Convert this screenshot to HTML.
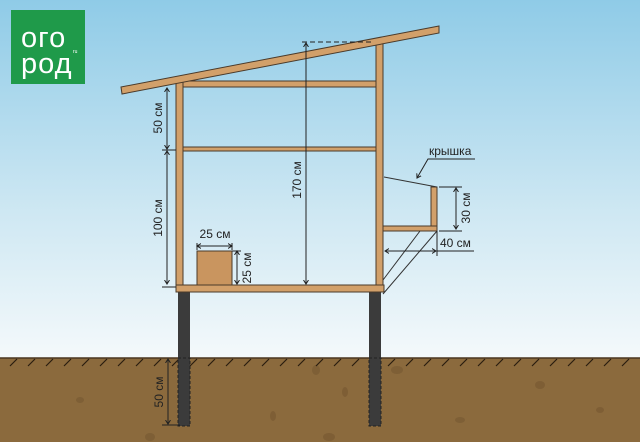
<!DOCTYPE html>
<html><head><meta charset="utf-8"><style>html,body{margin:0;padding:0;width:640px;height:442px;overflow:hidden}svg{display:block}text{font-family:"Liberation Sans",sans-serif;fill:#222}</style></head><body>
<svg width="640" height="442" viewBox="0 0 640 442" xmlns="http://www.w3.org/2000/svg">
<defs>
<linearGradient id="sky" x1="0" y1="0" x2="0" y2="1"><stop offset="0" stop-color="#8fcbe7"/><stop offset="0.6" stop-color="#cfe8f3"/><stop offset="1" stop-color="#f4f9fb"/></linearGradient>
<marker id="a" markerWidth="8" markerHeight="8" refX="4" refY="4" orient="auto-start-reverse"><path d="M0,1.5 L4,4 L0,6.5" fill="none" stroke="#222" stroke-width="1"/></marker>
</defs>
<rect width="640" height="358" fill="url(#sky)"/>
<rect y="358" width="640" height="84" fill="#8b6a3d"/>
<g fill="#7b5c34" opacity="0.8">
<ellipse cx="316" cy="370" rx="4" ry="5"/><ellipse cx="397" cy="370" rx="6" ry="4"/><ellipse cx="345" cy="392" rx="3" ry="5"/><ellipse cx="273" cy="416" rx="3" ry="5"/><ellipse cx="329" cy="437" rx="6" ry="4"/><ellipse cx="150" cy="437" rx="5" ry="4"/><ellipse cx="540" cy="385" rx="5" ry="4"/><ellipse cx="600" cy="410" rx="4" ry="3"/><ellipse cx="80" cy="400" rx="4" ry="3"/><ellipse cx="460" cy="420" rx="5" ry="3"/>
</g>
<line x1="0" y1="358" x2="640" y2="358" stroke="#4a3520" stroke-width="1.5"/>
<g stroke="#2a1d10" stroke-width="1.2">
<path d="M10,366l7,-7M28,366l7,-7M46,366l7,-7M64,366l7,-7M82,366l7,-7M100,366l7,-7M118,366l7,-7M136,366l7,-7M154,366l7,-7M172,366l7,-7M190,366l7,-7M208,366l7,-7M226,366l7,-7M244,366l7,-7M262,366l7,-7M280,366l7,-7M298,366l7,-7M316,366l7,-7M334,366l7,-7M352,366l7,-7M370,366l7,-7M388,366l7,-7M406,366l7,-7M424,366l7,-7M442,366l7,-7M460,366l7,-7M478,366l7,-7M496,366l7,-7M514,366l7,-7M532,366l7,-7M550,366l7,-7M568,366l7,-7M586,366l7,-7M604,366l7,-7M622,366l7,-7"/>
</g>
<rect x="178" y="292" width="12" height="134" fill="#3b3b3b"/>
<rect x="369" y="292" width="12" height="134" fill="#3b3b3b"/>
<g stroke="#222" stroke-dasharray="3,2" fill="none"><rect x="178" y="358" width="12" height="68"/><rect x="369" y="358" width="12" height="68"/></g>
<g fill="#d2a06a" stroke="#4a3a2a" stroke-width="1">
<rect x="176" y="82" width="7" height="208"/>
<rect x="376" y="42" width="7" height="248"/>
<rect x="183" y="81" width="193" height="6"/>
<rect x="183" y="147" width="193" height="4"/>
<rect x="176" y="285" width="208" height="7"/>
<polygon points="121,87 439,26 439,33 122,94"/>
<rect x="197" y="251" width="35" height="34" fill="#c9955f"/>
<rect x="431" y="187" width="6" height="43"/>
<rect x="383" y="226" width="54" height="5"/>
</g>
<g stroke="#333" stroke-width="1" fill="none">
<path d="M384,177 L437,187"/>
<path d="M383,280 L420,231 M383,294 L437,231"/>
</g>
<g stroke="#222" stroke-width="1" fill="none">
<line x1="167" y1="88" x2="167" y2="149" marker-start="url(#a)" marker-end="url(#a)"/>
<line x1="167" y1="151" x2="167" y2="284" marker-start="url(#a)" marker-end="url(#a)"/>
<line x1="162" y1="150" x2="176" y2="150"/>
<line x1="162" y1="287" x2="176" y2="287"/>
<line x1="306" y1="43" x2="306" y2="284" marker-start="url(#a)" marker-end="url(#a)"/>
<line x1="302" y1="42" x2="372" y2="42" stroke-dasharray="5,3"/>
<line x1="197" y1="246" x2="232" y2="246" marker-start="url(#a)" marker-end="url(#a)"/>
<line x1="197" y1="243" x2="197" y2="250"/><line x1="232" y1="243" x2="232" y2="250"/>
<line x1="237" y1="251" x2="237" y2="284" marker-start="url(#a)" marker-end="url(#a)"/>
<line x1="232" y1="251" x2="241" y2="251"/>
<line x1="456" y1="188" x2="456" y2="229" marker-start="url(#a)" marker-end="url(#a)"/>
<line x1="439" y1="187" x2="462" y2="187"/><line x1="439" y1="231" x2="462" y2="231"/>
<line x1="385" y1="251" x2="436" y2="251" marker-start="url(#a)" marker-end="url(#a)"/>
<line x1="437" y1="231" x2="437" y2="256"/><line x1="437" y1="251" x2="474" y2="251"/>
<line x1="168" y1="359" x2="168" y2="424" marker-start="url(#a)" marker-end="url(#a)"/>
<line x1="162" y1="425" x2="180" y2="425"/>
<path d="M475,159 L428,159 L417,178" marker-end="url(#a)"/>
</g>
<g font-size="12">
<text transform="translate(162,118) rotate(-90)" text-anchor="middle">50 см</text>
<text transform="translate(162,218) rotate(-90)" text-anchor="middle">100 см</text>
<text transform="translate(301,180) rotate(-90)" text-anchor="middle">170 см</text>
<text transform="translate(251,268) rotate(-90)" text-anchor="middle">25 см</text>
<text transform="translate(470,208) rotate(-90)" text-anchor="middle">30 см</text>
<text transform="translate(163,392) rotate(-90)" text-anchor="middle">50 см</text>
<text x="215" y="238" text-anchor="middle">25 см</text>
<text x="440" y="247">40 см</text>
<text x="429" y="155">крышка</text>
</g>
<rect x="11" y="10" width="74" height="74" fill="#1f9a4a"/>
<text x="21" y="47" font-size="29" letter-spacing="1" style="fill:#fff">ого</text>
<text x="21" y="73" font-size="29" letter-spacing="1" style="fill:#fff">род</text>
<text x="73" y="53" font-size="5" style="fill:#fff">ru</text>
</svg>
</body></html>
